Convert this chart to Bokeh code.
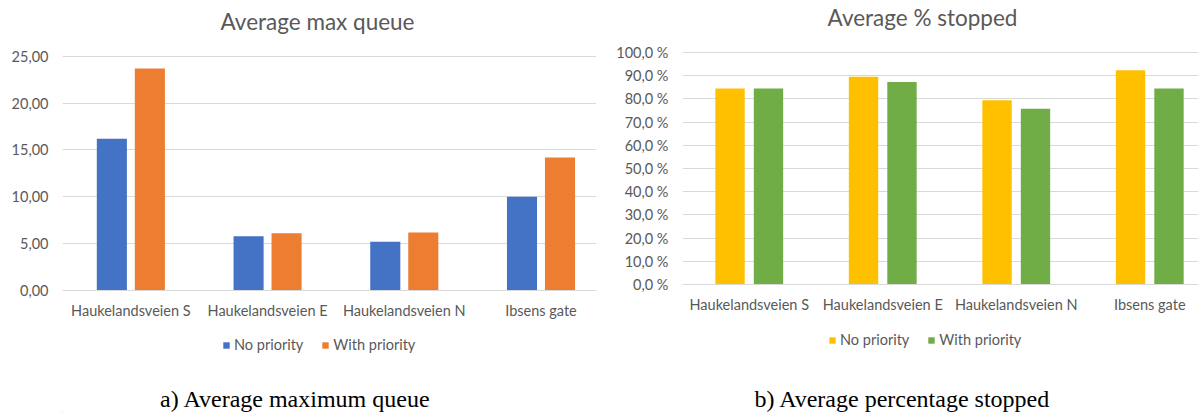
import numpy as np
from bokeh.plotting import figure
from bokeh.models import Range1d, FixedTicker, Legend, LegendItem, Label
from bokeh.layouts import row, column
from bokeh.embed import file_html
from bokeh.resources import INLINE

# ---- data ----
categories = ["Haukelandsveien S", "Haukelandsveien E", "Haukelandsveien N", "Ibsens gate"]
series_names = ["No priority", "With priority"]

queue_no_priority = [16.2, 5.8, 5.2, 10.0]
queue_with_priority = [23.7, 6.1, 6.2, 14.2]
queue_ticks = [0, 5, 10, 15, 20, 25]
queue_tick_labels = ["0,00", "5,00", "10,00", "15,00", "20,00", "25,00"]

stopped_no_priority = [84.5, 89.6, 79.4, 92.4]
stopped_with_priority = [84.5, 87.3, 75.8, 84.5]
stopped_ticks = [0, 10, 20, 30, 40, 50, 60, 70, 80, 90, 100]
stopped_tick_labels = ["0,0 %", "10,0 %", "20,0 %", "30,0 %", "40,0 %", "50,0 %",
                       "60,0 %", "70,0 %", "80,0 %", "90,0 %", "100,0 %"]

titles = ["Average max queue", "Average % stopped"]
captions = ["a) Average maximum queue", "b) Average percentage stopped"]
queue_colors = ["#4472C4", "#ED7D31"]
stopped_colors = ["#FFC000", "#70AD47"]

FONT = "Lato"
TXT = "#595959"
GRID = "#D9D9D9"
TOTAL_H = 412
AXIS_BORDER = 42
W = 599


def make_chart(title, no_vals, with_vals, yticks, ylabels, ymax,
               colors, x_end, border_left, border_right, frame_bottom,
               top_px, title_cx, title_base, bar_offset):
    # frame spans canvas top (0) to frame_bottom; ymax sits at top_px
    ppu = (frame_bottom - top_px) / ymax
    y_end = frame_bottom / ppu
    p = figure(width=W, height=frame_bottom + AXIS_BORDER,
               x_range=Range1d(-0.5, x_end), y_range=Range1d(0, y_end),
               output_backend="svg", toolbar_location=None,
               min_border_left=border_left, min_border_right=border_right,
               min_border_top=0, min_border_bottom=AXIS_BORDER)
    p.outline_line_color = None
    p.background_fill_color = "white"

    idx = np.arange(len(categories))
    p.vbar(x=idx - bar_offset, top=no_vals, width=0.22,
           fill_color=colors[0], line_color=None)
    p.vbar(x=idx + bar_offset, top=with_vals, width=0.22,
           fill_color=colors[1], line_color=None)

    p.xgrid.visible = False
    p.ygrid.grid_line_color = GRID
    p.ygrid.grid_line_width = 1
    p.ygrid.ticker = FixedTicker(ticks=yticks)

    p.yaxis.ticker = FixedTicker(ticks=yticks)
    p.yaxis.major_label_overrides = {t: l for t, l in zip(yticks, ylabels)}
    p.yaxis.axis_line_color = None
    p.yaxis.major_tick_line_color = None
    p.yaxis.minor_tick_line_color = None
    p.yaxis.major_tick_out = 0
    p.yaxis.major_label_standoff = 14
    p.yaxis.major_label_text_font = FONT
    p.yaxis.major_label_text_font_size = "14.5px"
    p.yaxis.major_label_text_color = TXT

    p.xaxis.ticker = FixedTicker(ticks=list(idx))
    p.xaxis.major_label_overrides = {int(i): c for i, c in zip(idx, categories)}
    p.xaxis.axis_line_color = GRID
    p.xaxis.major_tick_line_color = None
    p.xaxis.minor_tick_line_color = None
    p.xaxis.major_tick_out = 0
    p.xaxis.major_tick_in = 0
    p.xaxis.major_label_standoff = 11
    p.xaxis.major_label_text_font = FONT
    p.xaxis.major_label_text_font_size = "14.5px"
    p.xaxis.major_label_text_color = TXT

    # chart title, inside the (extended) frame
    units_per_px = (x_end + 0.5) / (W - border_left - border_right)
    tx = -0.5 + (title_cx - border_left) * units_per_px
    ty = (frame_bottom - title_base) / ppu
    p.add_layout(Label(x=tx, y=ty, text=title, text_align="center",
                       text_baseline="alphabetic", text_font=FONT,
                       text_font_size="22.5px", text_color=TXT))
    return p


def make_bottom(height, border_left, border_right, caption, colors,
                cap_cx, cap_base, legend_x, legend_bottom):
    fw = W - border_left - border_right
    c = figure(width=W, height=height, x_range=Range1d(0, fw), y_range=Range1d(0, height),
               output_backend="svg", toolbar_location=None,
               x_axis_location=None, y_axis_location=None,
               min_border_left=border_left, min_border_right=border_right,
               min_border_top=0, min_border_bottom=0)
    c.outline_line_color = None
    c.grid.visible = False
    # off-screen stand-ins so the legend can show each series' swatch
    r1 = c.vbar(x=[-1000], top=[1], width=1, fill_color=colors[0], line_color=None)
    r2 = c.vbar(x=[-1000], top=[1], width=1, fill_color=colors[1], line_color=None)
    legend = Legend(items=[LegendItem(label=series_names[0], renderers=[r1]),
                           LegendItem(label=series_names[1], renderers=[r2])],
                    location=(legend_x - border_left, TOTAL_H - legend_bottom),
                    orientation="horizontal",
                    glyph_width=8, glyph_height=8, label_height=8,
                    label_standoff=4, spacing=18, padding=0, margin=0,
                    border_line_color=None, background_fill_alpha=0,
                    label_text_font=FONT, label_text_font_size="14.5px",
                    label_text_color=TXT)
    c.add_layout(legend)
    c.add_layout(Label(x=cap_cx - border_left, y=TOTAL_H - cap_base, text=caption,
                       text_align="center", text_baseline="alphabetic",
                       text_font="Liberation Serif", text_font_size="24px",
                       text_color="black"))
    return c


p1 = make_chart(titles[0], queue_no_priority, queue_with_priority,
                queue_ticks, queue_tick_labels, 25,
                queue_colors, 3.406, 62, 3, 290,
                55.7, 317, 21, 0.139)
p2 = make_chart(titles[1], stopped_no_priority, stopped_with_priority,
                stopped_ticks, stopped_tick_labels, 100,
                stopped_colors, 3.365, 83, 0, 284,
                52, 922 - W, 17, 0.144)
b1 = make_bottom(TOTAL_H - p1.height, 62, 3, captions[0], queue_colors,
                 295, 398, 222, 353)
b2 = make_bottom(TOTAL_H - p2.height, 83, 0, captions[1], stopped_colors,
                 902 - W, 398, 828 - W, 348)

layout = row(column(p1, b1), column(p2, b2))
open("out.html", "w").write(file_html(layout, INLINE))
